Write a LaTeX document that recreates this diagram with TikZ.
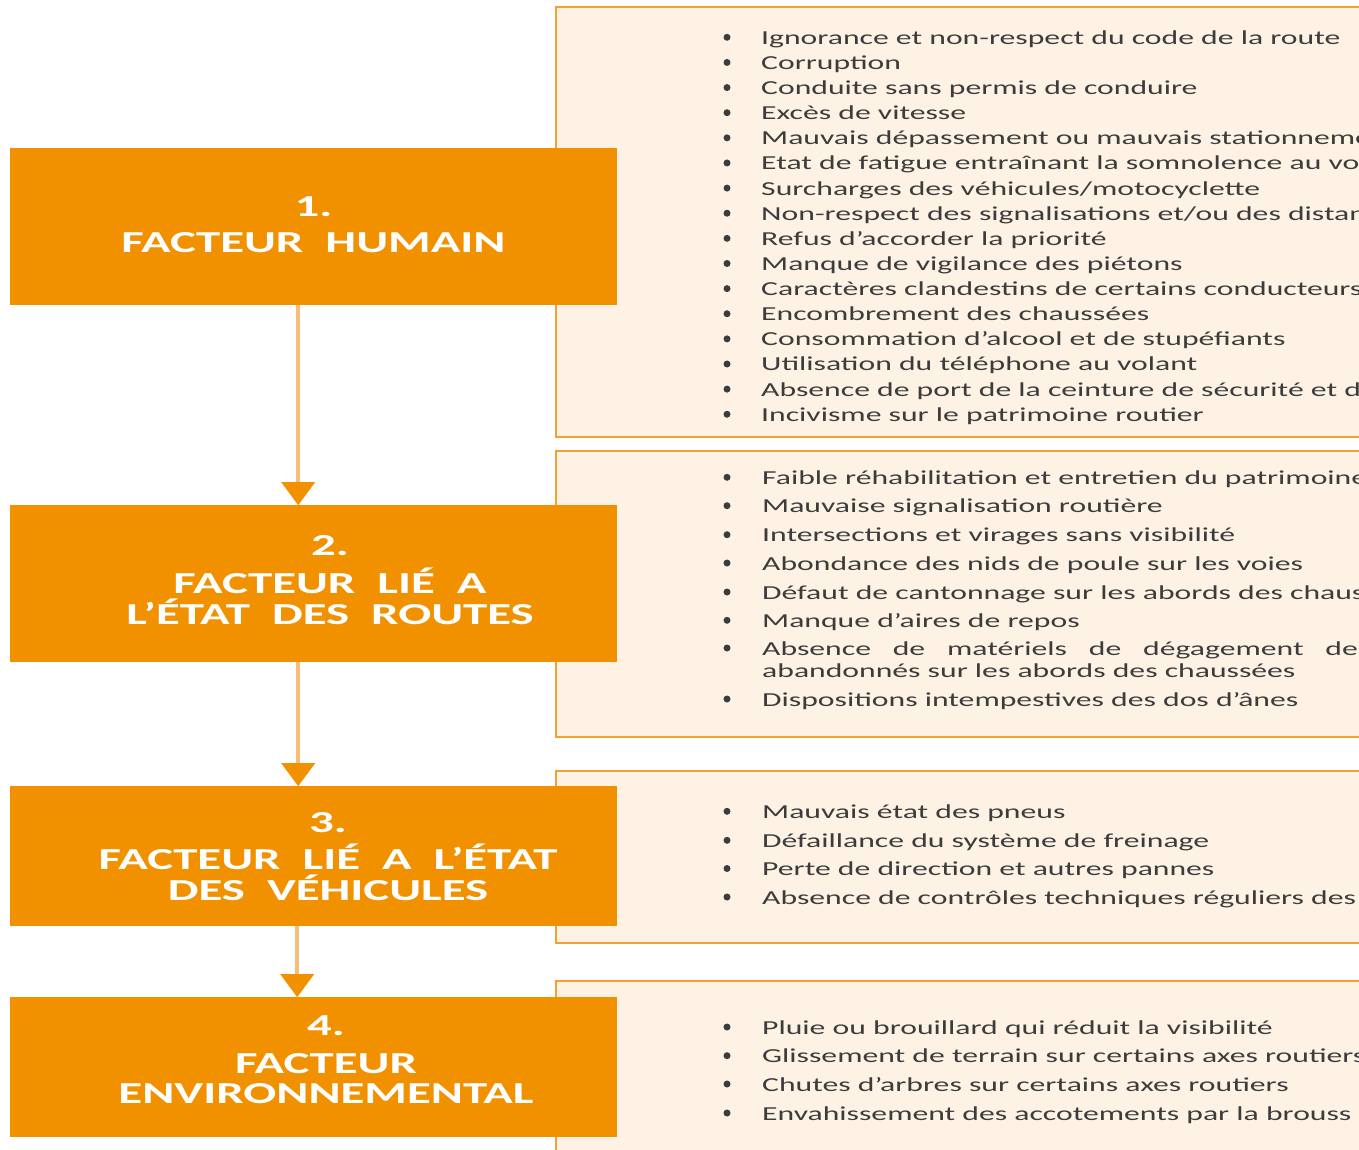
\documentclass[tikz,border=0pt]{standalone}
\usepackage{fontspec}
\setmainfont{Carlito}[FakeStretch=1.6]
\usetikzlibrary{arrows.meta}
\definecolor{factor}{HTML}{F29100}
\definecolor{panelfill}{HTML}{FEF2E5}
\definecolor{panelline}{HTML}{F5A030}
\definecolor{flowline}{HTML}{F8BC74}
\definecolor{bodytext}{HTML}{3C3C3C}
\tikzset{
  factorbox/.style={fill=factor, draw=none, inner sep=0pt, anchor=north west},
  panel/.style={fill=panelfill, draw=panelline, line width=2.2pt, inner sep=0pt, anchor=north west},
  headline/.style={text=white, inner sep=0pt, anchor=base,
    font=\fontsize{30.5pt}{31pt}\selectfont\bfseries,
    execute at begin node={\spaceskip=22pt\relax}},
  item/.style={text=bodytext, inner sep=0pt, anchor=base west,
    font=\fontsize{19.8pt}{22pt}\selectfont},
  bullet/.style={fill=bodytext},
  flow/.style={draw=flowline, line width=3.5pt,
    -{Triangle[width=34pt, length=23pt, color=factor, fill=factor, line width=0.1pt]}}
}
\begin{document}
\begin{tikzpicture}[x=1pt, y=-1pt]
\useasboundingbox (0,0) rectangle (1359,1149);
\clip (0,0) rectangle (1359,1149);
\fill[white] (0,0) rectangle (1359,1149);

% panels listing the causes
\node[panel, minimum width=900pt, minimum height=430pt] (p1) at (555,6) {};
\node[panel, minimum width=900pt, minimum height=286pt] (p2) at (555,450) {};
\node[panel, minimum width=900pt, minimum height=172pt] (p3) at (555,770) {};
\node[panel, minimum width=900pt, minimum height=250pt] (p4) at (555,980) {};

% factor boxes
\node[factorbox, minimum width=607pt, minimum height=157pt] (f1) at (10,148) {};
\node[factorbox, minimum width=607pt, minimum height=157pt] (f2) at (10,505) {};
\node[factorbox, minimum width=607pt, minimum height=140pt] (f3) at (10,786) {};
\node[factorbox, minimum width=607pt, minimum height=140pt] (f4) at (10,997) {};

% flow between factors
\draw[flow] ([xshift=-15.5pt]f1.south) -- ([xshift=-15.5pt]f2.north);
\draw[flow] ([xshift=-15.5pt]f2.south) -- ([xshift=-15.5pt]f3.north);
\draw[flow] ([xshift=-16.5pt]f3.south) -- ([xshift=-16.5pt]f4.north);

% factor titles
\node[headline] (n1) at (313.5,216) {1.};
\node[headline] (h1a) at (313.5,252.5) {FACTEUR HUMAIN};

\node[headline] (n2) at (330,555.5) {2.};
\node[headline] (h2a) at (330,593) {FACTEUR LIÉ A};
\node[headline] (h2b) at (330,624) {L’ÉTAT DES ROUTES};

\node[headline] (n3) at (328,832) {3.};
\node[headline] (h3a) at (328,869) {FACTEUR LIÉ A L’ÉTAT};
\node[headline] (h3b) at (328,900) {DES VÉHICULES};

\node[headline] (n4) at (326,1035.3) {4.};
\node[headline] (h4a) at (326,1073) {FACTEUR};
\node[headline] (h4b) at (326,1103.5) {ENVIRONNEMENTAL};

% human factor causes
\foreach \txt [count=\k] in {
  Ignorance et non-respect du code de la route,
  Corruption,
  Conduite sans permis de conduire,
  Excès de vitesse,
  Mauvais dépassement ou mauvais stationneme,
  Etat de fatigue entraînant la somnolence au vo,
  Surcharges des véhicules/motocyclette,
  Non-respect des signalisations et/ou des distan,
  Refus d’accorder la priorité,
  Manque de vigilance des piétons,
  Caractères clandestins de certains conducteurs,
  Encombrement des chaussées,
  Consommation d’alcool et de stupéfiants,
  Utilisation du téléphone au volant,
  Absence de port de la ceinture de sécurité et d,
  Incivisme sur le patrimoine routier}
{
  \fill[bullet] (727,{44.3+25.13*(\k-1)-7}) circle (3.5pt);
  \node[item] (a\k) at (761,{44.3+25.13*(\k-1)}) {\txt};
}

% road condition causes
\foreach \txt/\yy [count=\k] in {
  Faible réhabilitation et entretien du patrimoine/484.3,
  Mauvaise signalisation routière/512.7,
  Intersections et virages sans visibilité/541.7,
  Abondance des nids de poule sur les voies/570,
  Défaut de cantonnage sur les abords des chaus/599,
  Manque d’aires de repos/627.3,
  {\makebox[608pt][s]{Absence de matériels de dégagement des}}/655,
  Dispositions intempestives des dos d’ânes/706}
{
  \fill[bullet] (727,{\yy-7}) circle (3.5pt);
  \node[item] (b\k) at (762,\yy) {\txt};
}
\node[item] (b9) at (762,677.3) {abandonnés sur les abords des chaussées};

% vehicle condition causes
\foreach \txt/\yy [count=\k] in {
  Mauvais état des pneus/818.3,
  Défaillance du système de freinage/847.3,
  Perte de direction et autres pannes/875.5,
  Absence de contrôles techniques réguliers des/904}
{
  \fill[bullet] (727,{\yy-7}) circle (3.5pt);
  \node[item] (c\k) at (762,\yy) {\txt};
}

% environmental causes
\foreach \txt/\yy [count=\k] in {
  Pluie ou brouillard qui réduit la visibilité/1034,
  Glissement de terrain sur certains axes routiers/1062.7,
  Chutes d’arbres sur certains axes routiers/1091,
  Envahissement des accotements par la brouss/1120}
{
  \fill[bullet] (727,{\yy-7}) circle (3.5pt);
  \node[item] (d\k) at (762,\yy) {\txt};
}
\end{tikzpicture}
\end{document}
